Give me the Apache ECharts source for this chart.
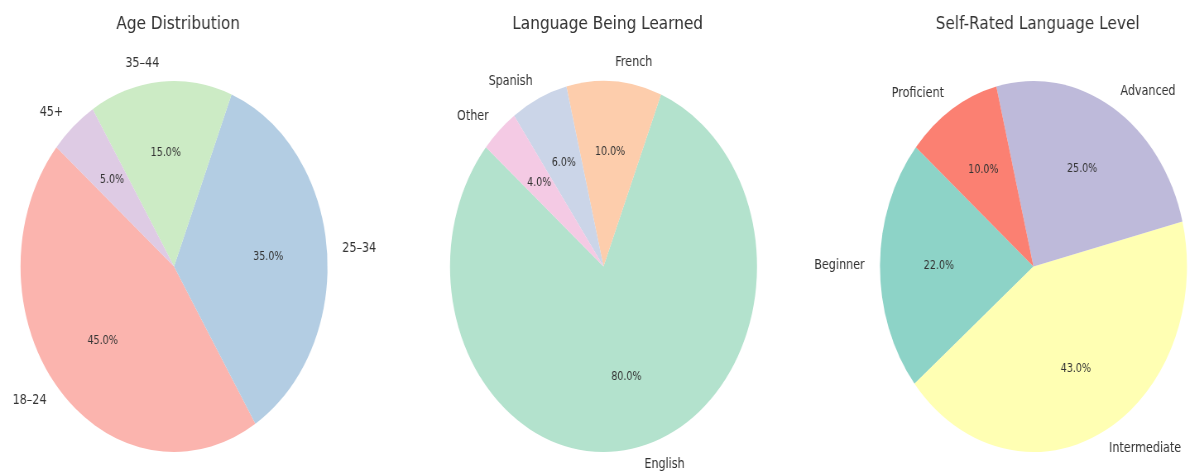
<!DOCTYPE html>
<html>
<head>
<meta charset="utf-8">
<script src="https://cdn.jsdelivr.net/npm/echarts@6/dist/echarts.min.js"></script>
<style>
  html, body { margin: 0; padding: 0; background: #fff; overflow: hidden; }
  /* the reference pies are squeezed sideways, so draw round pies and squash the whole canvas */
  #main { width: 1440px; height: 472px; transform: scaleX(0.8275); transform-origin: 0 0; }
</style>
</head>
<body>
<div id="main"></div>
<script>
const ageNames = ['18–24', '25–34', '35–44', '45+'];
const ageValues = [45, 35, 15, 5];
const ageColors = ['#fbb4ae', '#b3cde3', '#ccebc5', '#decbe4'];

const langNames = ['English', 'French', 'Spanish', 'Other'];
const langValues = [80, 10, 6, 4];
const langColors = ['#b3e2cd', '#fdcdac', '#cbd5e8', '#f4cae4'];

const levelNames = ['Beginner', 'Intermediate', 'Advanced', 'Proficient'];
const levelValues = [22, 43, 25, 10];
const levelColors = ['#8dd3c7', '#ffffb3', '#bebada', '#fb8072'];

const titles = ['Age Distribution', 'Language Being Learned', 'Self-Rated Language Level'];

const font = 'DejaVu Sans';
const R = 185.5;
const centersX = [210.3, 729.3, 1248.9];
const centerY = 266.5;

const myChart = echarts.init(document.getElementById('main'));

const makeData = (names, values, colors) =>
    names.map((n, i) => ({name: n, value: values[i], itemStyle: {color: colors[i]}}));

const pies = [
    makeData(ageNames, ageValues, ageColors),
    makeData(langNames, langValues, langColors),
    makeData(levelNames, levelValues, levelColors)
];

const series = [];
pies.forEach((data, k) => {
    // the coloured pie, names outside at 1.1 r
    series.push({
        type: 'pie',
        center: [centersX[k], centerY],
        radius: [0, R],
        startAngle: 140,
        clockwise: false,
        avoidLabelOverlap: false,
        silent: true,
        itemStyle: {borderWidth: 0},
        label: {
            show: true,
            position: 'outside',
            distanceToLabelLine: 0,
            color: '#333',
            fontFamily: font,
            fontSize: 13.5,
            formatter: '{b}'
        },
        labelLine: {show: false, length: R * 0.1, length2: 0},
        data: data
    });
    // invisible twin at 1.2 r so the inside label sits at 0.6 r
    series.push({
        type: 'pie',
        center: [centersX[k], centerY],
        radius: [0, R * 1.2],
        startAngle: 140,
        clockwise: false,
        silent: true,
        itemStyle: {color: 'rgba(0,0,0,0)', borderWidth: 0},
        label: {
            show: true,
            position: 'inside',
            color: '#333',
            fontFamily: font,
            fontSize: 11.5,
            formatter: p => p.percent.toFixed(1) + '%'
        },
        labelLine: {show: false},
        data: data.map(d => ({name: d.name, value: d.value}))
    });
});

myChart.setOption({
    animation: false,
    backgroundColor: '#fff',
    title: titles.map((t, k) => ({
        text: t,
        left: centersX[k],
        top: 10,
        textAlign: 'center',
        textStyle: {fontFamily: font, fontSize: 18.5, fontWeight: 'normal', color: '#333'}
    })),
    series: series
});
</script>
</body>
</html>
